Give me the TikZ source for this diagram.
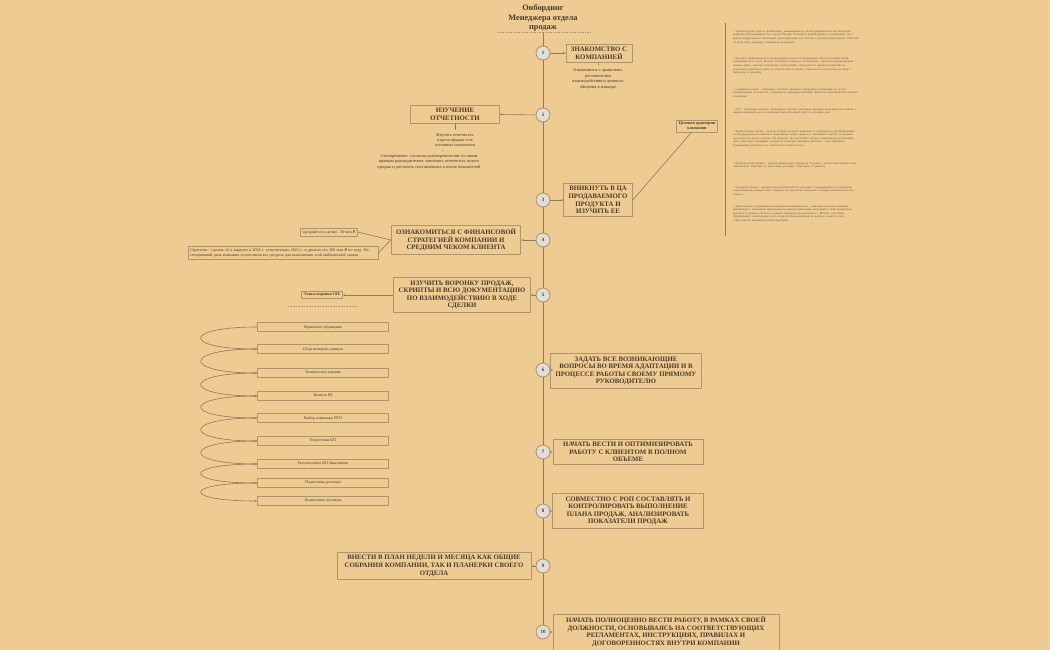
\documentclass[tikz,border=0pt]{standalone}
\usepackage{fontspec}
\setmainfont{Liberation Serif}
\newfontfamily\rubfont{DejaVu Sans}
\newcommand{\rub}{{\rubfont ₽}}
\usetikzlibrary{positioning,arrows.meta}
\definecolor{bg}{HTML}{EDCB93}
\definecolor{ink}{HTML}{4A3B2A}
\definecolor{edge}{HTML}{B0956A}
\definecolor{dot}{HTML}{E2DDD5}
\tikzset{
  stepbox/.style={draw=edge,line width=0.8pt,fill=none,text=ink,font=\bfseries\fontsize{6.8}{7.6}\selectfont,align=center,inner xsep=5pt,inner ysep=3pt},
  num/.style={circle,draw=edge!80!gray,line width=0.8pt,fill=dot,minimum size=14pt,inner sep=0pt,text=ink,font=\bfseries\fontsize{5}{5}\selectfont},
  note/.style={text=ink,font=\fontsize{4.4}{5.4}\selectfont,align=center},
  tag/.style={draw=edge,line width=0.7pt,text=ink,font=\fontsize{4}{5}\selectfont,align=left,inner sep=2pt},
  stage/.style={draw=edge,line width=0.7pt,text=ink,font=\fontsize{4}{4.5}\selectfont,minimum width=131pt,minimum height=8.5pt,inner sep=0pt},
  para/.style={text=ink!85,font=\fontsize{2.9}{3.6}\selectfont,align=left,text width=127pt,anchor=north west,inner sep=0pt},
  link/.style={draw=edge!70!ink,line width=0.6pt},
  arr/.style={link,-{Stealth[length=2.5pt,width=2pt]}}
}
\begin{document}
\begin{tikzpicture}[x=1pt,y=-1pt]
  \fill[bg] (0,0) rectangle (1050,650);
  \useasboundingbox (0,0) rectangle (1050,650);

  % title
  \node[text=ink,font=\bfseries\fontsize{8.3}{9.4}\selectfont,align=center] (title) at (543,18)
    {Онбординг\\Менеджера отдела\\продаж};
  \draw[edge,densely dotted,line width=0.6pt] (497,32) -- (590,32);

  % numbered circles on the spine
  \foreach \i/\y in {1/53,2/115,3/200,4/240,5/295,6/370,7/452,8/511,9/566,10/632}
    \node[num] (c\i) at (543,\y) {\i};
  \coordinate (top) at (543,33);
  \draw[link] (top) -- (c1);
  \foreach \a/\b in {1/2,2/3,3/4,4/5,5/6,6/7,7/8,8/9,9/10}
    \draw[link] (c\a) -- (c\b);

  % steps
  \node[stepbox] (s1) at (599,53) {ЗНАКОМСТВО С\\КОМПАНИЕЙ};
  \node[stepbox,minimum width=89pt] (s2) at (455,114) {ИЗУЧЕНИЕ\\ОТЧЕТНОСТИ};
  \node[stepbox] (s3) at (598,200) {ВНИКНУТЬ В ЦА\\ПРОДАВАЕМОГО\\ПРОДУКТА И\\ИЗУЧИТЬ ЕЕ};
  \node[stepbox] (s4) at (456,240) {ОЗНАКОМИТЬСЯ С ФИНАНСОВОЙ\\СТРАТЕГИЕЙ КОМПАНИИ И\\СРЕДНИМ ЧЕКОМ КЛИЕНТА};
  \node[stepbox] (s5) at (462,295) {ИЗУЧИТЬ ВОРОНКУ ПРОДАЖ,\\СКРИПТЫ И ВСЮ ДОКУМЕНТАЦИЮ\\ПО ВЗАИМОДЕЙСТВИЮ В ХОДЕ\\СДЕЛКИ};
  \node[stepbox] (s6) at (626,371) {ЗАДАТЬ ВСЕ ВОЗНИКАЮЩИЕ\\ВОПРОСЫ ВО ВРЕМЯ АДАПТАЦИИ И В\\ПРОЦЕССЕ РАБОТЫ СВОЕМУ ПРЯМОМУ\\РУКОВОДИТЕЛЮ};
  \node[stepbox,minimum width=150pt] (s7) at (628,452) {НАЧАТЬ ВЕСТИ И ОПТИМИЗИРОВАТЬ\\РАБОТУ С КЛИЕНТОМ В ПОЛНОМ\\ОБЪЕМЕ};
  \node[stepbox,minimum width=151pt] (s8) at (628,511) {СОВМЕСТНО С РОП СОСТАВЛЯТЬ И\\КОНТРОЛИРОВАТЬ ВЫПОЛНЕНИЕ\\ПЛАНА ПРОДАЖ, АНАЛИЗИРОВАТЬ\\ПОКАЗАТЕЛИ ПРОДАЖ};
  \node[stepbox,minimum width=194pt] (s9) at (434,566) {ВНЕСТИ В ПЛАН НЕДЕЛИ И МЕСЯЦА КАК ОБЩИЕ\\СОБРАНИЯ КОМПАНИИ, ТАК И ПЛАНЕРКИ СВОЕГО\\ОТДЕЛА};
  \node[stepbox,minimum width=226pt] (s10) at (666,632) {НАЧАТЬ ПОЛНОЦЕННО ВЕСТИ РАБОТУ, В РАМКАХ СВОЕЙ\\ДОЛЖНОСТИ, ОСНОВЫВАЯСЬ НА СООТВЕТСТВУЮЩИХ\\РЕГЛАМЕНТАХ, ИНСТРУКЦИЯХ, ПРАВИЛАХ И\\ДОГОВОРЕННОСТЯХ ВНУТРИ КОМПАНИИ};
  \foreach \i in {1,...,10}
    \draw[arr] (c\i) -- (s\i);

  % notes under steps 1 and 2
  \node[note] (n1) at (598,79) {Ознакомится с правилами,\\регламентами\\взаимодействия и делового\\общения в команде};
  \draw[link] (s1) -- (n1);
  \node[note] (n2) at (455,140) {Изучить отчетность\\отдела продаж и ее\\основные показатели};
  \draw[link] (s2) -- (n2);
  \node[note] (n3) at (429,162) {Своевременно, согласно договоренностям со своим\\прямым руководителем, заполнять отчетность отдела\\продаж и достигать поставленных в плане показателей};
  \draw[link] (n2) -- (n3);

  % target audience
  \node[tag,font=\bfseries\fontsize{4.2}{5.2}\selectfont,align=center] (ca) at (697,126) {Целевая аудитория\\компании};
  \draw[link] (s3.east) -- (ca);
  \draw[edge!70!ink,line width=0.7pt] (725,23) -- (725,236);
  \node[para] (p1) at (733,30) {-- Архитектурные бюро и дизайн-бюро, занимающиеся в своей профдеятельности объектами коммерческой недвижимости в городе Москва. Реализуют дизайн-проект и рекомендуют его в работу подрядчикам и инженерам, проектирующим все системы и реализующим ремонт. Работают по агентскому договору с партнером по ремонту.};
  \node[para] (p2) at (733,57) {-- Брокеры, занимающиеся в своей профдеятельности брокериджем объектов коммерческой недвижимости в городе Москва. Реализуют подбор и согласование с покупателем/арендатором объекта (офис, торговое помещение, стрит-ритейл). Нуждаются в надежном партнере по реализации ремонтных работ на объекте своего клиента. Работают по агентскому договору с партнером по ремонту.};
  \node[para] (p3) at (733,88) {-- Сарафанное радио -- компании и частные заказчики, пришедшие в компанию по сугубо рекомендациям от клиентов, сотрудников, партнеров компании. Являются автоматически теплыми клиентами.};
  \node[para] (p4) at (733,108) {-- LTV -- повторные клиенты. Компании и частные заказчики, имеющие реальный опыт работы с нашей компанией, высоко оценивают качество наших работ и доверяют нам.};
  \node[para] (p5) at (733,130) {-- Комиссионные сделки -- сделки, которые получает компания от партнеров по проектированию и субподрядчиков по мебели и инженерным сетям, сводя их с заказчиком в работу по прямым договорам без своего участия. На объектах, где отсутствует интерес компании для реализации, либо существует специфика, которая не позволяет компании работать с этим заказчиком (зонирование деятельности, особенности объекта и т.д.).};
  \node[para] (p6) at (733,162) {-- Коммерческий сарафан -- рекомендации наших партнеров по рынку с целью выполнения своих обязательств. Работают по агентскому договору с партнером по ремонту.};
  \node[para] (p7) at (733,186) {-- Тендерные заказы -- являются результатом работы компании с подрядчиками по тендерному сопровождению коммерческих тендеров, по результату выигрыша в тендере компания получает клиента.};
  \node[para] (p8) at (733,205) {-- Девелоперы и застройщики коммерческой недвижимости -- ключевые клиенты компании, работающие с понятными партнерами по ремонту, имеющими репутацию и опыт реализации крупных и сложных объектов в рамках коммерческих ремонтов в г. Москва. Способны сформировать значительную часть годового плана компании по выручке и имеют статус стратегически значимой целевой аудитории.};

  % finance
  \node[tag] (chk) at (329,232) {Средний чек сделки - 30 млн \rub};
  \node[tag,text width=186pt] (str) at (283,253) {Стратегия - сделать х5 в выручке в 2024 г. относительно 2023 г., в деньгах это 300 млн \rub{} по году. На сегодняшний день компания подготовила все ресурсы для выполнения этой амбициозной задачи};
  \draw[link] (s4.west) -- (chk.east);
  \draw[link] (s4.west) -- (str.east);

  % funnel
  \node[tag,font=\bfseries\fontsize{4}{5}\selectfont] (fun) at (322,295) {Этапы воронки ОП:};
  \draw[arr] (s5.west) -- (fun.east);
  \draw[edge,densely dotted,line width=0.6pt] (288,306) -- (357,306);
  \foreach \j/\y/\t in {1/327/Первичное обращение,2/349/Сбор исходных данных,3/373/Техническое задание,
      4/396/Выпуск РД,5/418/Выбор инженера ПТО,6/441/Подготовка КП,
      7/464/Рассмотрение КП Заказчиком,8/483/Подготовка договора,9/501/Подписание договора}
    \node[stage] (f\j) at (323,\y) {\t};
  \foreach \a/\b in {1/2,2/3,3/4,4/5,5/6,6/7,7/8,8/9}
    \draw[arr] (f\a.west) .. controls +(-75,0) and +(-75,0) .. (f\b.west);
\end{tikzpicture}
\end{document}
